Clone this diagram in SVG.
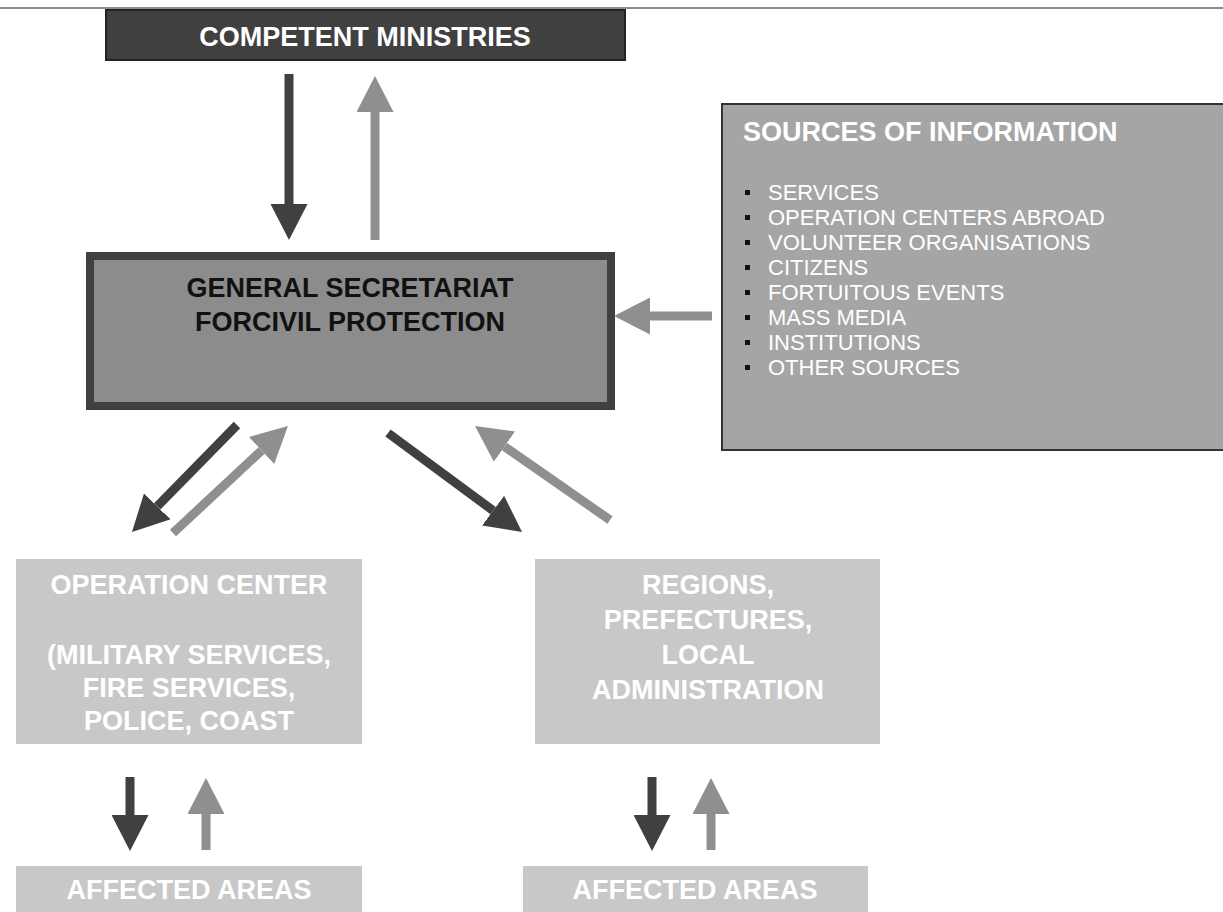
<svg xmlns="http://www.w3.org/2000/svg" width="1223" height="912" viewBox="0 0 1223 912">
<style>
text{font-family:"Liberation Sans",Arial,sans-serif}
.b{font-weight:bold;font-size:27px}
.w{fill:#ffffff}
.k{fill:#111111}
.mid{text-anchor:middle}
.li{font-size:22px;fill:#ffffff}
.dk{stroke:#404040;stroke-width:9;fill:none}
.lt{stroke:#8f8f8f;stroke-width:9;fill:none}
.pale{fill:#c8c8c8}
</style>
<defs>
<marker id="hd" markerUnits="userSpaceOnUse" markerWidth="36" markerHeight="37" viewBox="0 0 36 37" refX="0" refY="18.5" orient="auto"><path d="M0,0 L36,18.5 L0,37 z" fill="#404040"/></marker>
<marker id="hl" markerUnits="userSpaceOnUse" markerWidth="36" markerHeight="37" viewBox="0 0 36 37" refX="0" refY="18.5" orient="auto"><path d="M0,0 L36,18.5 L0,37 z" fill="#8f8f8f"/></marker>
</defs>
<rect width="1223" height="912" fill="#ffffff"/>
<line x1="0" y1="8" x2="1223" y2="8" stroke="#666666" stroke-width="1.5"/>

<g id="competent-ministries">
<rect x="106" y="10" width="519" height="50" fill="#404040" stroke="#222222" stroke-width="2"/>
<text class="b w mid" x="365" y="46">COMPETENT MINISTRIES</text>
</g>

<g id="general-secretariat">
<rect x="90" y="256" width="521" height="150" fill="#8c8c8c" stroke="#404040" stroke-width="8"/>
<text class="b k mid" x="350" y="297">GENERAL SECRETARIAT</text>
<text class="b k mid" x="350" y="331">FORCIVIL PROTECTION</text>
</g>

<g id="sources-of-information">
<rect x="722" y="104" width="510" height="346" fill="#a5a5a5" stroke="#333333" stroke-width="2"/>
<text class="b w" x="743" y="141">SOURCES OF INFORMATION</text>
<g fill="#111111">
<rect x="745" y="190" width="5" height="5"/>
<rect x="745" y="215" width="5" height="5"/>
<rect x="745" y="240" width="5" height="5"/>
<rect x="745" y="265" width="5" height="5"/>
<rect x="745" y="290" width="5" height="5"/>
<rect x="745" y="315" width="5" height="5"/>
<rect x="745" y="340" width="5" height="5"/>
<rect x="745" y="365" width="5" height="5"/>
</g>
<text class="li" x="768" y="200">SERVICES</text>
<text class="li" x="768" y="225">OPERATION CENTERS ABROAD</text>
<text class="li" x="768" y="250">VOLUNTEER ORGANISATIONS</text>
<text class="li" x="768" y="275">CITIZENS</text>
<text class="li" x="768" y="300">FORTUITOUS EVENTS</text>
<text class="li" x="768" y="325">MASS MEDIA</text>
<text class="li" x="768" y="350">INSTITUTIONS</text>
<text class="li" x="768" y="375">OTHER SOURCES</text>
</g>

<g id="operation-center">
<rect class="pale" x="16" y="559" width="346" height="185"/>
<text class="b w mid" x="189" y="594">OPERATION CENTER</text>
<text class="b w mid" x="189" y="664">(MILITARY SERVICES,</text>
<text class="b w mid" x="189" y="697">FIRE SERVICES,</text>
<text class="b w mid" x="189" y="730">POLICE, COAST</text>
</g>

<g id="regions">
<rect class="pale" x="535" y="559" width="345" height="185"/>
<text class="b w mid" x="708" y="594">REGIONS,</text>
<text class="b w mid" x="708" y="629">PREFECTURES,</text>
<text class="b w mid" x="708" y="664">LOCAL</text>
<text class="b w mid" x="708" y="699">ADMINISTRATION</text>
</g>

<g id="affected-areas-left">
<rect class="pale" x="16" y="866" width="346" height="50"/>
<text class="b w mid" x="189" y="899">AFFECTED AREAS</text>
</g>

<g id="affected-areas-right">
<rect class="pale" x="523" y="866" width="345" height="50"/>
<text class="b w mid" x="695" y="899">AFFECTED AREAS</text>
</g>

<g id="connectors">
<line class="dk" x1="289" y1="74" x2="289" y2="204" marker-end="url(#hd)"/>
<line class="lt" x1="375" y1="240" x2="375" y2="112" marker-end="url(#hl)"/>
<line class="lt" x1="712" y1="316" x2="650" y2="316" marker-end="url(#hl)"/>
<line class="dk" x1="237" y1="425" x2="157.2" y2="506.3" marker-end="url(#hd)"/>
<line class="lt" x1="173" y1="533" x2="261.6" y2="450.5" marker-end="url(#hl)"/>
<line class="dk" x1="388" y1="433" x2="493.1" y2="510.6" marker-end="url(#hd)"/>
<line class="lt" x1="610" y1="520" x2="504.5" y2="446.6" marker-end="url(#hl)"/>
<line class="dk" x1="130" y1="777" x2="130" y2="815" marker-end="url(#hd)"/>
<line class="lt" x1="206" y1="850" x2="206" y2="814" marker-end="url(#hl)"/>
<line class="dk" x1="652" y1="777" x2="652" y2="815" marker-end="url(#hd)"/>
<line class="lt" x1="711" y1="850" x2="711" y2="814" marker-end="url(#hl)"/>
</g>
</svg>
